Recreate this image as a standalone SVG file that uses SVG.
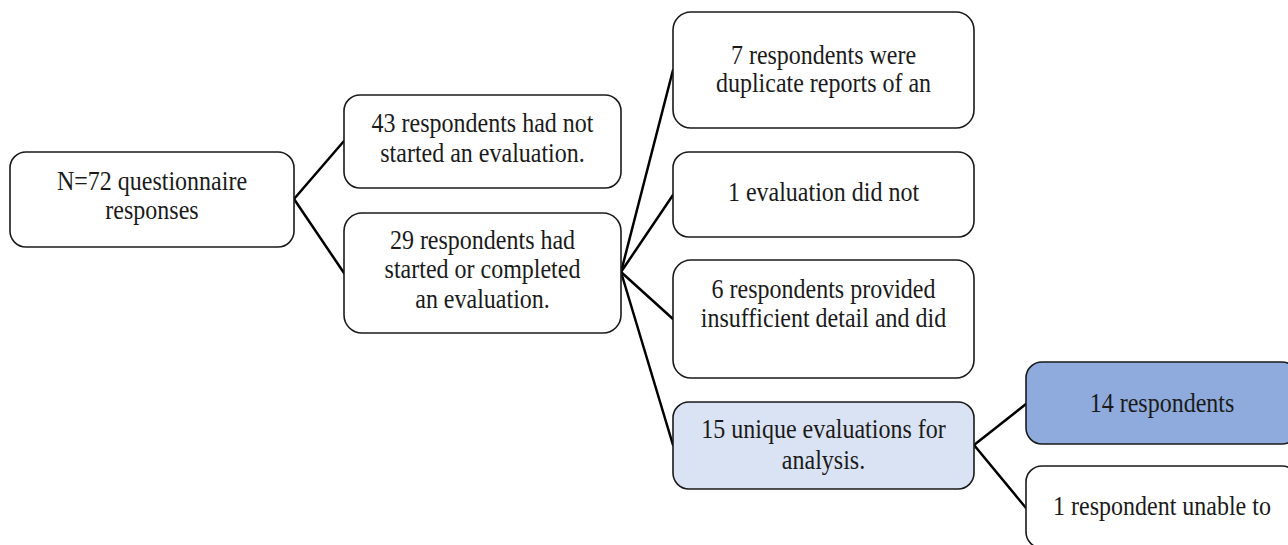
<svg xmlns="http://www.w3.org/2000/svg" width="1288" height="545" viewBox="0 0 1288 545">
<style>
.box{fill:#ffffff;stroke:#1a1a1a;stroke-width:1.6}
.light{fill:#dae3f3}
.mid{fill:#8faadc}
.t{font-family:"Liberation Serif","Times New Roman",serif;font-size:27px;fill:#1a1a1a;text-anchor:middle}
.c{stroke:#000;stroke-width:2.5;fill:none;stroke-linecap:round}
</style>
<rect width="1288" height="545" fill="#ffffff"/>
<g id="connectors">
<line class="c" x1="294" y1="199" x2="344" y2="141"/>
<line class="c" x1="294" y1="199" x2="344" y2="273"/>
<line class="c" x1="621" y1="272" x2="673" y2="70"/>
<line class="c" x1="621" y1="272" x2="673" y2="195"/>
<line class="c" x1="621" y1="272" x2="673" y2="319"/>
<line class="c" x1="621" y1="272" x2="673" y2="445"/>
<line class="c" x1="974" y1="445" x2="1026" y2="404"/>
<line class="c" x1="974" y1="445" x2="1026" y2="508"/>
</g>
<g id="n-total">
<rect class="box" x="10" y="152" width="284" height="95" rx="16"/>
<text class="t" transform="translate(152 190) scale(0.889 1)">N=72 questionnaire</text>
<text class="t" transform="translate(152 219) scale(0.889 1)">responses</text>
</g>
<g id="n-notstarted">
<rect class="box" x="344" y="95" width="277" height="93" rx="16"/>
<text class="t" transform="translate(482.5 132) scale(0.889 1)">43 respondents had not</text>
<text class="t" transform="translate(482.5 162) scale(0.889 1)">started an evaluation.</text>
</g>
<g id="n-started">
<rect class="box" x="344" y="213" width="277" height="120" rx="18"/>
<text class="t" transform="translate(482.5 249) scale(0.889 1)">29 respondents had</text>
<text class="t" transform="translate(482.5 278) scale(0.889 1)">started or completed</text>
<text class="t" transform="translate(482.5 308) scale(0.889 1)">an evaluation.</text>
</g>
<g id="n-duplicate">
<rect class="box" x="673" y="12" width="301" height="116" rx="18"/>
<text class="t" transform="translate(823.5 64) scale(0.889 1)">7 respondents were</text>
<text class="t" transform="translate(823.5 92) scale(0.889 1)">duplicate reports of an</text>
</g>
<g id="n-didnot">
<rect class="box" x="673" y="152" width="301" height="85" rx="16"/>
<text class="t" transform="translate(823.5 201) scale(0.889 1)">1 evaluation did not</text>
</g>
<g id="n-insufficient">
<rect class="box" x="673" y="260" width="301" height="118" rx="18"/>
<text class="t" transform="translate(823.5 298) scale(0.889 1)">6 respondents provided</text>
<text class="t" transform="translate(823.5 327) scale(0.889 1)">insufficient detail and did</text>
</g>
<g id="n-unique">
<rect class="box light" x="673" y="402" width="301" height="87" rx="16"/>
<text class="t" transform="translate(823.5 438) scale(0.889 1)">15 unique evaluations for</text>
<text class="t" transform="translate(823.5 469) scale(0.889 1)">analysis.</text>
</g>
<g id="n-14">
<rect class="box mid" x="1026" y="362" width="272" height="82" rx="16"/>
<text class="t" transform="translate(1162 412) scale(0.889 1)">14 respondents</text>
</g>
<g id="n-1">
<rect class="box" x="1026" y="466" width="272" height="82" rx="16"/>
<text class="t" transform="translate(1162 515) scale(0.889 1)">1 respondent unable to</text>
</g>
</svg>
